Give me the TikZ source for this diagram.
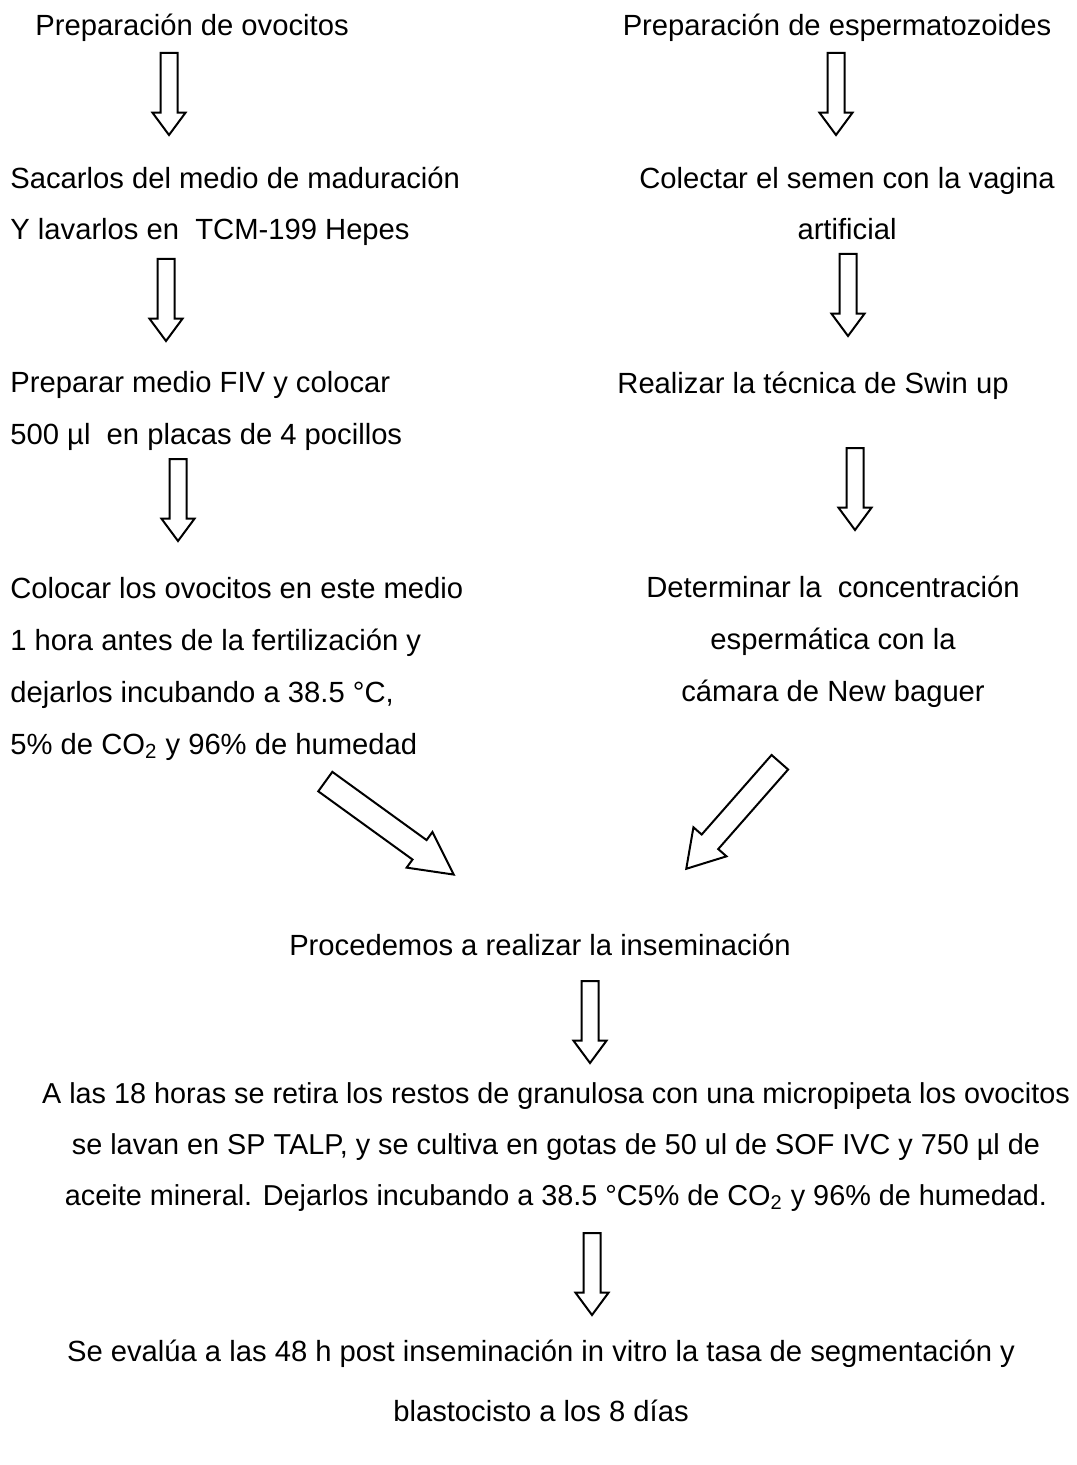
\documentclass[tikz,border=0pt]{standalone}
\usepackage{fontspec}
\setmainfont{Liberation Sans}
\usetikzlibrary{shapes.arrows}
\tikzset{
  steptext/.style={inner sep=0pt, font=\fontsize{14.6}{25.8}\selectfont},
  blockarrow/.style={single arrow, draw=black, line width=1pt, fill=white,
    inner xsep=0pt, inner ysep=3.75pt, minimum height=41pt, single arrow head extend=4pt,
    single arrow tip angle=73, rotate=-90, anchor=tail},
  diagarrow/.style={single arrow, draw=black, line width=1pt, fill=white,
    inner xsep=0pt, anchor=tail}
}

\begin{document}
\begin{tikzpicture}[x=0.5pt, y=-0.5pt]
  \useasboundingbox (0,0) rectangle (1076,1465);

  % columna de ovocitos
  \node[steptext, anchor=base west] (ovo1) at (35,36) {Preparación de ovocitos};
  \node[steptext, anchor=base west, align=left] (ovo2) at (10,240)
    {Sacarlos del medio de maduración\\Y lavarlos en\ \ TCM-199 Hepes};
  \node[steptext, anchor=base west, align=left] (ovo3) at (10,444)
    {Preparar medio FIV y colocar\\500 µl\ \ en placas de 4 pocillos};
  \node[steptext, anchor=base west, align=left, font=\fontsize{14.6}{26}\selectfont] (ovo4) at (10,754)
    {Colocar los ovocitos en este medio\\1 hora antes de la fertilización y\\dejarlos incubando a 38.5 °C,\\5\% de CO\textsubscript{2} y 96\% de humedad};

  % columna de espermatozoides
  \node[steptext, anchor=base] (esp1) at (837,36) {Preparación de espermatozoides};
  \node[steptext, anchor=base, align=center] (esp2) at (847,240)
    {Colectar el semen con la vagina\\artificial};
  \node[steptext, anchor=base] (esp3) at (813,393) {Realizar la técnica de Swin up};
  \node[steptext, anchor=base, align=center] (esp4) at (833,701)
    {Determinar la\ \ concentración\\espermática con la\\cámara de New baguer};

  % parte comun
  \node[steptext, anchor=base] (insem) at (540,955) {Procedemos a realizar la inseminación};
  \node[steptext, anchor=base, align=center, font=\fontsize{14.4}{25.3}\selectfont] (cult) at (556,1205)
    {A las 18 horas se retira los restos de granulosa con una micropipeta los ovocitos\\se lavan en SP TALP, y se cultiva en gotas de 50 ul de SOF IVC y 750 µl de\\aceite mineral. Dejarlos incubando a 38.5 °C5\% de CO\textsubscript{2} y 96\% de humedad.};
  \node[steptext, anchor=base, align=center, font=\fontsize{14.6}{30}\selectfont] (eval) at (541,1421)
    {Se evalúa a las 48 h post inseminación in vitro la tasa de segmentación y\\blastocisto a los 8 días};

  % flechas
  \node[blockarrow] (a1) at (169,52) {};
  \node[blockarrow] (a2) at (166,258) {};
  \node[blockarrow] (a3) at (178,458) {};
  \node[blockarrow] (b1) at (836,52) {};
  \node[blockarrow] (b2) at (848,253) {};
  \node[blockarrow] (b3) at (855,447) {};
  \node[diagarrow, rotate=-35.9, minimum height=79.3pt, inner ysep=5.5pt,
    single arrow head extend=5pt, single arrow tip angle=55] (d1) at (324.5,781) {};
  \node[diagarrow, rotate=-131.3, minimum height=70.9pt, inner ysep=5pt,
    single arrow head extend=5.5pt, single arrow tip angle=63] (d2) at (780.5,761.5) {};
  \node[blockarrow] (c1) at (590,980) {};
  \node[blockarrow] (c2) at (592,1232) {};
\end{tikzpicture}
\end{document}
